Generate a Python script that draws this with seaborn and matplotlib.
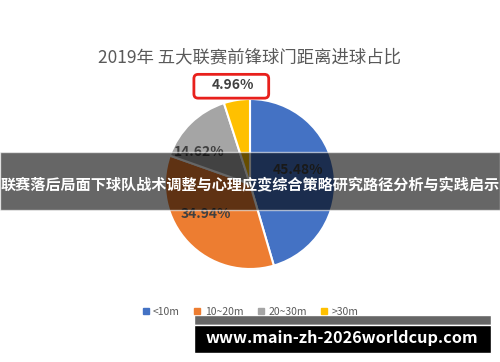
import matplotlib
matplotlib.use("Agg")
import matplotlib.pyplot as plt
import seaborn as sns
from matplotlib.patches import Rectangle, FancyBboxPatch
from matplotlib.lines import Line2D

# data
categories = ['<10m', '10~20m', '20~30m', '>30m']
shares = [45.48, 34.94, 14.62, 4.96]
colors = ['#4472C4', '#ED7D31', '#A5A5A5', '#FFC000']
title = '2019年 五大联赛前锋球门距离进球占比'
banner = '联赛落后局面下球队战术调整与心理应变综合策略研究路径分析与实践启示'
watermark = 'www.main-zh-2026worldcup.com'

sns.set_theme(style='white')
plt.rcParams['font.family'] = ['Noto Sans CJK SC', 'DejaVu Sans']

W, H = 500, 362
fig = plt.figure(figsize=(W / 100, H / 100), dpi=100)
fig.patch.set_facecolor('white')

# pie axes: centre (250,184) px, radius 85 px
cx, cy, r = 250, 184, 85
ax = fig.add_axes([(cx - r) / W, (H - cy - r) / H, 2 * r / W, 2 * r / H])
wedges, texts, autotexts = ax.pie(
    shares, colors=colors, startangle=90, counterclock=False,
    autopct='%.2f%%', pctdistance=0.62,
    wedgeprops=dict(edgecolor='white', linewidth=1.5),
    textprops=dict(color='#404040', fontsize=10, fontweight='bold'))
ax.set_xlim(-1, 1)
ax.set_ylim(-1, 1)
ax.set_aspect('equal')
ax.axis('off')

# nudge labels like the Excel layout
autotexts[2].set_position((-0.6, 0.38))
autotexts[1].set_position((-0.52, -0.35))
autotexts[0].set_position((0.56, 0.16))
autotexts[3].set_position((-0.2, 1.16))
autotexts[3].set_clip_on(False)
box = FancyBboxPatch((-0.66, 1.01), 0.88, 0.28,
                     boxstyle='round,pad=0,rounding_size=0.05',
                     transform=ax.transData, facecolor='white',
                     edgecolor='#E8201C', linewidth=2, clip_on=False, zorder=2)
ax.add_patch(box)
autotexts[3].set_zorder(3)

fig.text(0.5, (H - 57) / H, title, ha='center', va='center',
         fontsize=12.5, color='#595959')

# legend
handles = [Line2D([], [], marker='s', linestyle='', markersize=4,
                  markerfacecolor=c, markeredgecolor=c) for c in colors]
fig.legend(handles, categories, loc='center', bbox_to_anchor=(0.5, (H - 312) / H),
           ncol=4, frameon=False, fontsize=7.5, handletextpad=0.3,
           columnspacing=1.3, handlelength=0.8, labelcolor='#595959')

# banner overlay
fig.patches.append(Rectangle((0, (H - 210) / H), 1, 58 / H, transform=fig.transFigure,
                             facecolor='black', alpha=0.6, zorder=5))
fig.text(0.5, (H - 185) / H, banner, ha='center', va='center', color='white',
         fontsize=10.9, fontweight='bold', zorder=6)

# watermark
fig.patches.append(Rectangle((194 / W, (H - 325) / H), 297 / W, 10 / H,
                             transform=fig.transFigure, facecolor='#666666', zorder=5))
fig.patches.append(Rectangle((194 / W, (H - 353) / H), 297 / W, 28 / H,
                             transform=fig.transFigure, facecolor='black', zorder=5))
fig.text(342 / W, (H - 338) / H, watermark, ha='center', va='center', color='white',
         fontsize=11.7, fontweight='bold', zorder=6)

fig.savefig('out.png', dpi=100)
